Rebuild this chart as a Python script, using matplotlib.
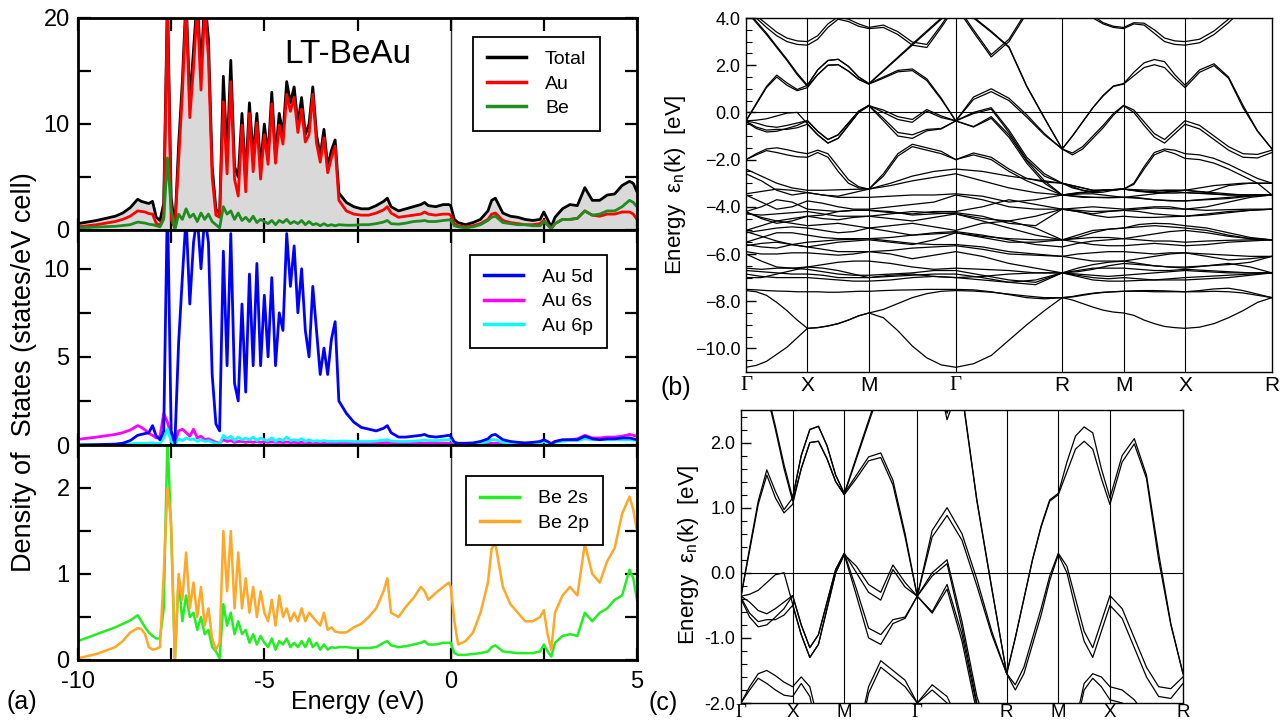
import numpy as np
import matplotlib
matplotlib.use("Agg")
import matplotlib.pyplot as plt
from matplotlib.lines import Line2D

plt.rcParams['font.family'] = ['Liberation Sans', 'DejaVu Sans']

# ---------------- DOS data (energy in eV, DOS in states/eV cell) ----------------
E_lo = [-10.0, -9.5, -9.0, -8.8, -8.6, -8.4, -8.3, -8.2, -8.1, -8.0, -7.9, -7.8, -7.7]
E_mid = [-7.6, -7.5, -7.4, -7.3, -7.2, -7.1, -7.0, -6.9, -6.8, -6.7, -6.6, -6.5, -6.4, -6.3,
         -6.2, -6.1, -6.0, -5.9, -5.8, -5.7, -5.6, -5.5, -5.4, -5.3, -5.2, -5.1, -5.0, -4.9,
         -4.8, -4.7, -4.6, -4.5, -4.4, -4.3, -4.2, -4.1, -4.0, -3.9, -3.8, -3.7, -3.6, -3.5,
         -3.4, -3.3, -3.2, -3.1, -3.0]
E_hi = [-2.8, -2.6, -2.4, -2.2, -2.0, -1.8, -1.7, -1.6, -1.4, -1.2, -1.0, -0.8, -0.7, -0.6,
        -0.4, -0.2, -0.05, 0.0, 0.1, 0.2, 0.4, 0.6, 0.8, 1.0, 1.1, 1.2, 1.4, 1.6, 1.8, 2.0,
        2.2, 2.4, 2.5, 2.6, 2.7, 2.8, 3.0, 3.2, 3.4, 3.6, 3.8, 4.0, 4.2, 4.4, 4.6, 4.8, 4.9, 5.0]

total_lo = [0.6, 0.9, 1.3, 1.6, 2.1, 2.9, 2.7, 2.6, 2.5, 2.7, 1.2, 0.9, 2.5]
total_mid = [22, 3, 0.3, 8, 14, 22, 12, 17, 22, 15, 22, 18, 6, 2, 1.5, 14.5, 7, 16, 6, 5, 11, 5,
             12, 7, 11, 6, 10, 7, 13, 7, 11, 9, 14, 12, 13.5, 10, 12.5, 9, 10, 13.5, 9, 7, 9.5,
             6, 7.5, 8.5, 3.5]
total_hi = [2.6, 2.2, 2.0, 2.0, 2.3, 2.7, 3.0, 2.2, 1.8, 2.0, 2.2, 2.4, 2.6, 2.3, 2.2, 2.4, 2.4,
            2.3, 1.0, 0.7, 0.5, 0.7, 1.0, 1.8, 2.8, 3.0, 1.6, 1.3, 1.2, 1.0, 0.9, 1.0, 1.7, 1.0,
            0.3, 1.2, 2.0, 2.4, 2.3, 4.0, 2.8, 2.8, 3.3, 3.4, 4.2, 4.6, 4.4, 3.6]

au_lo = [0.3, 0.5, 0.8, 1.0, 1.3, 1.8, 1.75, 1.7, 1.55, 1.5, 0.6, 0.45, 1.2]
au_mid = [21, 1.0, 0.2, 6.5, 12.8, 21, 10.6, 15.3, 21, 13.2, 21, 16.3, 5.0, 1.4, 1.2, 12.1, 5.3,
          14, 4.8, 3.2, 9.9, 3.6, 11, 5.5, 10.1, 4.8, 9.0, 6.2, 11.9, 6.3, 9.9, 8.1, 12.8, 11.2,
          12.5, 9.2, 11.4, 8.3, 9.0, 12.8, 8.2, 6.4, 8.7, 5.4, 6.8, 7.9, 2.8]
au_hi = [1.8, 1.5, 1.4, 1.4, 1.6, 1.9, 2.2, 1.6, 1.2, 1.3, 1.4, 1.5, 1.7, 1.5, 1.4, 1.5, 1.5, 1.4,
         0.6, 0.4, 0.3, 0.4, 0.6, 1.0, 1.5, 1.6, 0.9, 0.7, 0.6, 0.5, 0.5, 0.6, 0.9, 0.5, 0.2, 0.6,
         1.0, 1.0, 1.1, 1.8, 1.4, 1.3, 1.5, 1.5, 1.7, 1.7, 1.5, 1.0]

be_lo = [0.2, 0.28, 0.35, 0.42, 0.5, 0.75, 0.7, 0.65, 0.55, 0.5, 0.4, 0.3, 1.0]
be_mid = [6.8, 2.0, 0.0, 1.5, 1.0, 2.0, 1.2, 1.5, 0.8, 1.6, 1.0, 1.5, 0.8, 0.5, 0.2, 2.2, 1.5, 1.8,
          1.0, 1.6, 0.9, 1.2, 0.8, 1.3, 0.7, 1.0, 0.8, 0.6, 0.9, 0.5, 0.9, 0.7, 1.0, 0.6, 0.8, 0.6,
          0.9, 0.5, 0.8, 0.5, 0.6, 0.4, 0.6, 0.4, 0.5, 0.4, 0.5]
be_hi = [0.45, 0.45, 0.5, 0.5, 0.6, 0.75, 0.9, 0.6, 0.55, 0.65, 0.8, 0.85, 0.9, 0.8, 0.8, 0.9, 0.95,
         0.95, 0.4, 0.3, 0.2, 0.3, 0.5, 0.9, 1.2, 1.3, 0.7, 0.6, 0.5, 0.5, 0.4, 0.4, 0.8, 0.5, 0.1,
         0.6, 1.0, 1.0, 1.1, 1.8, 1.4, 1.5, 1.8, 1.8, 2.2, 2.8, 2.6, 2.2]

au5d_lo = [0.0, 0.02, 0.05, 0.1, 0.25, 0.55, 0.6, 0.65, 0.7, 1.1, 0.5, 0.3, 0.8]
au5d_mid = [14, 0.8, 0.1, 5.8, 9.5, 13, 8.0, 11.5, 13, 10, 13, 11.5, 4.0, 1.2, 0.8, 11, 4.5, 12,
            3.5, 2.5, 8, 3, 9.7, 4.5, 10.3, 4.5, 8.5, 5, 9.5, 4.5, 7.5, 6.5, 12, 9, 11.3, 7.5, 10,
            6.5, 5, 9, 6.5, 4, 5.5, 4, 6, 7, 2.5]
au5d_hi = [1.8, 1.3, 1.0, 0.9, 0.8, 0.95, 1.1, 0.7, 0.45, 0.45, 0.5, 0.55, 0.6, 0.5, 0.45, 0.5,
           0.55, 0.5, 0.15, 0.1, 0.1, 0.12, 0.2, 0.35, 0.55, 0.6, 0.3, 0.2, 0.15, 0.12, 0.15, 0.2,
           0.3, 0.2, 0.05, 0.2, 0.3, 0.3, 0.3, 0.5, 0.35, 0.3, 0.35, 0.35, 0.4, 0.4, 0.35, 0.3]

au6s_lo = [0.32, 0.45, 0.6, 0.7, 0.85, 1.1, 1.0, 0.85, 0.65, 0.55, 0.4, 0.5, 1.8]
au6s_mid = [1.3, 0.5, 0.1, 0.8, 0.9, 0.7, 0.5, 0.9, 0.4, 0.5, 0.3, 0.35, 0.25, 0.15, 0.1, 0.3,
            0.2, 0.25, 0.15, 0.2, 0.2, 0.15, 0.2, 0.15, 0.2, 0.15, 0.18, 0.15, 0.18, 0.15, 0.16,
            0.14, 0.17, 0.14, 0.15, 0.13, 0.15, 0.13, 0.14, 0.12, 0.13, 0.12, 0.12, 0.11, 0.12,
            0.11, 0.1]
au6s_hi = [0.1, 0.1, 0.1, 0.1, 0.1, 0.12, 0.13, 0.1, 0.1, 0.1, 0.1, 0.1, 0.1, 0.1, 0.1, 0.1, 0.1,
           0.1, 0.05, 0.05, 0.05, 0.05, 0.06, 0.08, 0.1, 0.1, 0.08, 0.07, 0.07, 0.08, 0.1, 0.12,
           0.2, 0.15, 0.1, 0.2, 0.25, 0.3, 0.35, 0.55, 0.4, 0.4, 0.45, 0.45, 0.5, 0.6, 0.55, 0.5]

au6p_lo = [0.01, 0.02, 0.03, 0.04, 0.06, 0.1, 0.1, 0.1, 0.1, 0.12, 0.08, 0.1, 0.4]
au6p_mid = [0.9, 0.2, 0.05, 0.35, 0.25, 0.4, 0.3, 0.35, 0.2, 0.3, 0.2, 0.25, 0.15, 0.1, 0.05,
            0.55, 0.35, 0.5, 0.25, 0.45, 0.3, 0.4, 0.3, 0.45, 0.25, 0.4, 0.3, 0.25, 0.4, 0.2,
            0.35, 0.25, 0.45, 0.25, 0.3, 0.25, 0.35, 0.2, 0.3, 0.2, 0.25, 0.2, 0.25, 0.2, 0.22,
            0.2, 0.22]
au6p_hi = [0.22, 0.2, 0.2, 0.2, 0.22, 0.28, 0.3, 0.22, 0.2, 0.2, 0.22, 0.25, 0.28, 0.25, 0.25,
           0.28, 0.3, 0.3, 0.12, 0.08, 0.06, 0.07, 0.1, 0.2, 0.3, 0.3, 0.15, 0.12, 0.1, 0.1, 0.1,
           0.12, 0.2, 0.12, 0.05, 0.15, 0.22, 0.25, 0.25, 0.35, 0.3, 0.3, 0.3, 0.3, 0.3, 0.3,
           0.28, 0.25]

be2s_lo = [0.22, 0.3, 0.38, 0.42, 0.46, 0.52, 0.45, 0.38, 0.32, 0.28, 0.25, 0.25, 0.6]
be2s_mid = [2.6, 1.5, 0.0, 0.95, 0.45, 0.75, 0.5, 0.55, 0.35, 0.5, 0.3, 0.35, 0.15, 0.1, 0.02,
            0.65, 0.4, 0.55, 0.3, 0.45, 0.3, 0.35, 0.2, 0.3, 0.18, 0.28, 0.2, 0.15, 0.25, 0.12,
            0.22, 0.18, 0.25, 0.15, 0.2, 0.15, 0.22, 0.15, 0.25, 0.15, 0.2, 0.12, 0.18, 0.12,
            0.15, 0.14, 0.15]
be2s_hi = [0.15, 0.14, 0.14, 0.14, 0.15, 0.2, 0.22, 0.17, 0.15, 0.16, 0.18, 0.2, 0.22, 0.18,
           0.18, 0.2, 0.2, 0.2, 0.08, 0.06, 0.06, 0.07, 0.08, 0.1, 0.15, 0.17, 0.1, 0.09, 0.08,
           0.08, 0.08, 0.1, 0.18, 0.1, 0.04, 0.2, 0.28, 0.3, 0.28, 0.55, 0.45, 0.55, 0.6, 0.7,
           0.75, 1.05, 0.95, 0.7]

be2p_lo = [0.02, 0.07, 0.15, 0.22, 0.32, 0.37, 0.36, 0.3, 0.15, 0.12, 0.13, 0.15, 1.0]
be2p_mid = [2.0, 1.6, 0.0, 1.0, 0.7, 1.25, 0.6, 0.9, 0.5, 0.85, 0.4, 0.6, 0.25, 0.12, 0.2, 1.5,
            0.8, 1.5, 0.6, 1.25, 0.6, 0.95, 0.55, 0.85, 0.5, 0.8, 0.55, 0.45, 0.7, 0.4, 0.75,
            0.5, 0.6, 0.45, 0.55, 0.45, 0.6, 0.45, 0.55, 0.5, 0.45, 0.4, 0.55, 0.35, 0.38, 0.33,
            0.32]
be2p_hi = [0.32, 0.38, 0.42, 0.5, 0.6, 0.8, 0.95, 0.55, 0.5, 0.62, 0.72, 0.85, 0.8, 0.7, 0.78,
           0.85, 0.9, 0.85, 0.45, 0.18, 0.22, 0.32, 0.55, 0.9, 1.3, 1.35, 0.85, 0.65, 0.55, 0.45,
           0.45, 0.5, 0.58, 0.3, 0.12, 0.55, 0.75, 0.85, 0.75, 1.35, 1.0, 0.9, 1.15, 1.3, 1.7,
           1.9, 1.75, 1.5]

energy = E_lo + E_mid + E_hi
dos_total = total_lo + total_mid + total_hi
dos_au = au_lo + au_mid + au_hi
dos_be = be_lo + be_mid + be_hi
dos_au5d = au5d_lo + au5d_mid + au5d_hi
dos_au6s = au6s_lo + au6s_mid + au6s_hi
dos_au6p = au6p_lo + au6p_mid + au6p_hi
dos_be2s = be2s_lo + be2s_mid + be2s_hi
dos_be2p = be2p_lo + be2p_mid + be2p_hi

# ---------------- band structure data ----------------
k_labels = ['Γ', 'X', 'M', 'Γ', 'R', 'M', 'X', 'R']
k_nodes = [0.0, 1.0, 2.0, 3.414, 5.146, 6.146, 7.146, 8.561]

# bands sampled at 6 steps per path segment (43 values)
band_L1 = [-0.36, 0.34, 1.05, 1.5, 1.15, 0.92,  1.05, 1.6, 2.0, 2.02, 1.75, 1.4,
           1.2, 1.45, 1.72, 1.77, 1.35, 0.55,  -0.36, 0.55, 0.88, 0.5, -0.2, -0.95,
           -1.55, -1.0, -0.4, 0.2, 0.7, 1.1,  1.2, 1.55, 1.9, 2.02, 1.9, 1.45,
           1.05, 1.7, 1.98, 1.45, 0.2, -0.8,  -1.55]
band_L2 = [-0.36, 0.38, 1.1, 1.58, 1.25, 0.97,  1.15, 1.8, 2.2, 2.25, 1.95, 1.5,
           1.22, 1.5, 1.78, 1.84, 1.42, 0.6,  -0.36, 0.65, 1.0, 0.6, -0.1, -0.9,
           -1.55, -1.0, -0.4, 0.2, 0.72, 1.12,  1.22, 1.7, 2.1, 2.24, 2.15, 1.6,
           1.15, 1.8, 2.06, 1.5, 0.3, -0.78,  -1.55]
band_V1 = [4.3, 3.8, 3.3, 2.75, 2.2, 1.6,  1.1, 1.6, 2.0, 2.02, 1.75, 1.4,
           1.2, 1.75, 2.3, 2.85, 3.4, 3.95,  4.5, 4.0, 3.4, 2.75, 1.1, -0.25,
           -1.55, -1.72, -1.45, -1.0, -0.55, -0.05,  0.3, 0.1, -0.4, -0.9, -1.15, -0.75,
           -0.35, -0.55, -1.0, -1.45, -1.75, -1.78,  -1.6]
band_V2 = [4.36, 3.86, 3.36, 2.8, 2.25, 1.66,  1.15, 1.8, 2.2, 2.25, 1.95, 1.5,
           1.22, 1.78, 2.34, 2.9, 3.45, 4.0,  4.55, 4.04, 3.44, 2.78, 1.12, -0.23,
           -1.55, -1.8, -1.55, -1.1, -0.65, -0.12,  0.28, 0.0, -0.55, -1.05, -1.3, -0.9,
           -0.5, -0.7, -1.15, -1.6, -1.9, -1.93,  -1.7]
band_B1 = [-0.36, -0.45, -0.58, -0.63, -0.55, -0.45,  -0.35, -0.8, -1.15, -0.95, -0.45, 0.05,
           0.3, -0.25, -0.85, -0.95, -0.72, -0.68,  -0.36, 0.0, 0.2, -0.75, -1.9, -2.6,
           -3.0, -3.1, -3.2, -3.3, -3.3, -3.28,  -3.25, -3.0, -2.3, -1.7, -1.55, -1.6,
           -1.75, -1.8, -1.95, -2.2, -2.5, -2.8,  -3.0]
band_B2 = [-0.36, -0.33, -0.27, -0.15, -0.03, 0.0,  -0.48, -0.95, -1.3, -1.1, -0.55, 0.0,
           0.28, -0.35, -1.0, -1.1, -0.78, -0.7,  -0.36, -0.05, 0.14, -0.85, -2.0, -2.7,
           -3.0, -3.2, -3.3, -3.4, -3.38, -3.3,  -3.25, -3.05, -2.4, -1.8, -1.62, -1.75,
           -1.95, -2.0, -2.15, -2.4, -2.7, -3.0,  -3.5]
band_P3 = [-0.38, -0.62, -0.75, -0.72, -0.72, -0.65,  -0.5, -0.95, -1.3, -1.1, -0.55, 0.0,
           0.28, 0.1, -0.18, -0.3, 0.12, -0.15,  -0.36, -0.6, -0.18, -0.95, -2.05, -2.9,
           -3.5, -3.55, -3.6, -3.6, -3.6, -3.6,  -3.6, -3.62, -3.66, -3.7, -3.72, -3.74,
           -3.75, -3.7, -3.65, -3.6, -3.55, -3.5,  -3.5]
band_P4 = [-0.4, -0.68, -0.83, -0.8, -0.68, -0.55,  -0.35, -0.8, -1.15, -0.95, -0.45, 0.05,
           0.3, 0.0, -0.3, -0.42, 0.05, -0.22,  -0.36, -0.62, -0.25, -1.05, -2.15, -3.0,
           -3.5, -3.48, -3.45, -3.45, -3.5, -3.55,  -3.6, -3.55, -3.5, -3.45, -3.4, -3.35,
           -3.3, -3.35, -3.4, -3.45, -3.5, -3.5,  -3.5]
band_G1 = [-2.0, -1.75, -1.55, -1.5, -1.58, -1.68,  -1.75, -1.6, -1.75, -2.3, -2.85, -3.15,
           -3.25, -2.6, -1.75, -1.35, -1.5, -1.65,  -2.0, -1.72, -1.9, -2.4, -2.8, -2.95,
           -3.0, -3.15, -3.3, -3.35, -3.3, -3.27,  -3.25, -3.3, -3.35, -3.35, -3.3, -3.3,
           -3.3, -3.2, -3.1, -3.05, -3.0, -3.0,  -3.0]
band_G2 = [-2.0, -1.8, -1.62, -1.7, -1.8, -1.88,  -1.9, -1.7, -1.9, -2.5, -3.0, -3.2,
           -3.25, -2.7, -1.85, -1.45, -1.6, -1.75,  -2.0, -1.8, -2.0, -2.5, -2.9, -3.2,
           -3.5, -3.45, -3.4, -3.35, -3.3, -3.27,  -3.25, -3.3, -3.35, -3.4, -3.42, -3.42,
           -3.4, -3.42, -3.45, -3.5, -3.5, -3.5,  -3.5]
band_W1 = [4.3, 4.0, 3.6, 3.25, 3.0, 2.88,  2.85, 3.1, 3.6, 3.95, 3.85, 3.65,
           3.55, 3.6, 3.3, 2.85, 2.75, 3.6,  4.5, 3.4, 2.35, 3.0, 4.2, 5.0,
           5.5, 4.8, 4.4, 4.0, 3.75, 3.6,  3.55, 3.75, 3.7, 3.35, 3.0, 2.88,
           2.85, 2.95, 3.3, 3.8, 4.4, 5.0,  5.5]
band_W2 = [4.4, 4.1, 3.75, 3.4, 3.15, 3.03,  3.0, 3.25, 3.75, 4.05, 3.95, 3.75,
           3.6, 3.7, 3.42, 2.98, 2.88, 3.7,  4.6, 3.5, 2.45, 3.1, 4.3, 5.1,
           5.6, 4.9, 4.5, 4.1, 3.8, 3.65,  3.6, 3.8, 3.78, 3.5, 3.15, 3.03,
           3.0, 3.1, 3.45, 3.95, 4.5, 5.1,  5.6]
band_D1 = [-10.8, -10.72, -10.55, -10.25, -9.95, -9.55,  -9.15, -9.12, -9.05, -8.95, -8.8, -8.62,
           -8.5, -8.7, -9.25, -9.9, -10.4, -10.7,  -10.8, -10.65, -10.3, -9.65, -9.0, -8.4,
           -7.85, -7.95, -8.1, -8.25, -8.38, -8.46,  -8.5, -8.6, -8.8, -8.95, -9.07, -9.12,
           -9.15, -9.1, -8.95, -8.7, -8.4, -8.05,  -7.85]
band_D2 = [-7.55, -7.6, -7.75, -8.05, -8.4, -8.8,  -9.15, -9.12, -9.05, -8.95, -8.8, -8.62,
           -8.5, -8.35, -8.1, -7.85, -7.68, -7.58,  -7.55, -7.57, -7.62, -7.7, -7.78, -7.85,
           -7.85, -7.8, -7.72, -7.66, -7.62, -7.6,  -7.58, -7.58, -7.58, -7.6, -7.6, -7.6,
           -7.6, -7.55, -7.48, -7.45, -7.55, -7.7,  -7.85]
band_D3 = [-7.5, -7.52, -7.55, -7.57, -7.58, -7.6,  -7.6, -7.6, -7.62, -7.62, -7.6, -7.58,
           -7.58, -7.55, -7.53, -7.52, -7.5, -7.5,  -7.5, -7.52, -7.6, -7.72, -7.85, -7.9,
           -7.85, -7.82, -7.75, -7.68, -7.63, -7.6,  -7.58, -7.56, -7.55, -7.55, -7.56, -7.58,
           -7.6, -7.6, -7.58, -7.6, -7.65, -7.75,  -7.85]

# d-band manifold sampled at 4 steps per path segment (29 values)
band_c1 = [-2.4, -2.7, -3.0, -3.2, -3.3, -3.3, -3.28, -3.26, -3.25, -3.0, -2.7, -2.5, -2.4, -2.5, -2.7,
           -2.85, -3.0, -3.15, -3.3, -3.28, -3.25, -3.28, -3.3, -3.3, -3.3, -3.4, -3.1, -3.0, -3.0]
band_c2 = [-2.6, -2.9, -3.3, -3.5, -3.4, -3.5, -3.55, -3.4, -3.25, -3.1, -2.9, -2.75, -2.6, -2.9, -3.2,
           -3.4, -3.5, -3.4, -3.35, -3.3, -3.25, -3.35, -3.4, -3.35, -3.4, -3.45, -3.5, -3.5, -3.5]
band_c3 = [-3.45, -3.35, -3.25, -3.3, -3.4, -3.5, -3.6, -3.6, -3.6, -3.55, -3.5, -3.5, -3.45, -3.55, -3.8,
           -3.7, -3.5, -3.55, -3.6, -3.62, -3.6, -3.62, -3.7, -3.75, -3.75, -3.7, -3.65, -3.55, -3.5]
band_c4 = [-3.5, -3.8, -4.1, -4.0, -3.75, -3.85, -4.0, -4.1, -4.1, -4.0, -3.9, -3.8, -3.5, -3.7, -4.0,
           -4.1, -4.1, -4.05, -4.0, -4.05, -4.1, -4.05, -4.0, -4.0, -4.1, -4.0, -3.8, -3.6, -3.5]
band_c5 = [-4.2, -4.0, -3.7, -3.8, -4.1, -4.15, -4.2, -4.15, -4.15, -4.25, -4.3, -4.2, -4.2, -4.0, -3.7,
           -3.9, -4.1, -4.2, -4.3, -4.2, -4.15, -4.2, -4.3, -4.35, -4.4, -4.3, -4.2, -4.15, -4.1]
band_c6 = [-4.3, -4.35, -4.3, -4.25, -4.2, -4.3, -4.4, -4.4, -4.4, -4.5, -4.6, -4.45, -4.3, -4.5, -4.6,
           -4.4, -4.1, -4.2, -4.35, -4.45, -4.4, -4.45, -4.45, -4.42, -4.4, -4.35, -4.25, -4.15, -4.1]
band_c7 = [-4.2, -4.5, -4.7, -4.6, -4.4, -4.5, -4.55, -4.45, -4.4, -4.3, -4.2, -4.25, -4.3, -4.6, -4.9,
           -5.2, -5.4, -5.3, -5.1, -4.95, -4.9, -4.85, -4.8, -4.85, -4.9, -5.0, -5.2, -5.35, -5.4]
band_c8 = [-5.0, -4.8, -4.6, -4.7, -4.8, -4.75, -4.7, -4.8, -4.9, -4.8, -4.7, -4.85, -5.0, -4.7, -4.6,
           -4.9, -5.4, -5.2, -5.0, -4.95, -4.9, -4.75, -4.7, -4.72, -4.8, -4.9, -5.1, -5.3, -5.4]
band_c9 = [-5.1, -5.0, -4.9, -4.85, -4.9, -5.0, -5.1, -5.05, -4.9, -5.05, -5.2, -5.15, -5.1, -5.3, -5.5,
           -5.5, -5.4, -5.35, -5.3, -5.3, -5.35, -5.25, -5.15, -5.05, -5.0, -5.1, -5.25, -5.35, -5.4]
band_c10 = [-5.5, -5.3, -5.1, -5.1, -5.2, -5.3, -5.35, -5.35, -5.35, -5.3, -5.2, -5.1, -5.05, -5.2, -5.4,
            -5.6, -5.7, -5.55, -5.45, -5.4, -5.35, -5.4, -5.45, -5.45, -5.5, -5.45, -5.42, -5.4, -5.4]
band_c11 = [-5.6, -5.7, -5.75, -5.6, -5.5, -5.45, -5.4, -5.38, -5.35, -5.45, -5.55, -5.6, -5.6, -5.7, -5.9,
            -6.0, -6.1, -6.0, -5.95, -5.9, -5.9, -5.95, -6.0, -5.95, -5.95, -6.0, -6.05, -6.1, -6.1]
band_c12 = [-5.65, -5.55, -5.5, -5.6, -5.7, -5.8, -5.9, -5.9, -5.9, -5.85, -5.75, -5.7, -5.65, -5.8, -6.0,
            -6.05, -6.1, -6.2, -6.3, -6.3, -6.3, -6.2, -6.1, -6.0, -5.95, -6.1, -6.25, -6.2, -6.1]
band_c13 = [-5.9, -6.0, -6.0, -5.95, -5.95, -6.0, -6.05, -6.0, -5.9, -6.0, -6.2, -6.05, -5.9, -6.1, -6.4,
            -6.6, -6.8, -6.6, -6.45, -6.35, -6.3, -6.4, -6.5, -6.55, -6.55, -6.5, -6.45, -6.35, -6.1]
band_c14 = [-6.0, -6.3, -6.55, -6.6, -6.55, -6.45, -6.35, -6.3, -6.3, -6.4, -6.55, -6.65, -6.6, -6.65, -6.7,
            -6.8, -6.8, -6.7, -6.6, -6.6, -6.6, -6.65, -6.7, -6.7, -6.65, -6.7, -6.75, -6.8, -6.8]
band_c15 = [-6.6, -6.65, -6.6, -6.6, -6.65, -6.75, -6.85, -6.9, -6.9, -6.85, -6.8, -6.7, -6.7, -6.9, -7.1,
            -7.2, -6.8, -6.85, -6.9, -6.95, -6.9, -6.85, -6.8, -6.75, -6.7, -6.75, -6.8, -6.8, -6.8]
band_c16 = [-6.7, -6.75, -6.8, -6.85, -6.85, -6.9, -7.0, -7.0, -7.0, -6.95, -6.9, -6.85, -6.85, -7.0, -7.2,
            -7.3, -6.8, -6.9, -7.0, -7.05, -7.0, -7.05, -7.1, -7.05, -7.0, -6.95, -6.9, -6.85, -6.8]
band_c17 = [-6.85, -6.95, -7.0, -7.0, -7.0, -7.05, -7.1, -7.15, -7.15, -7.1, -7.0, -6.95, -7.0, -7.1, -7.2,
            -7.1, -6.8, -6.95, -7.1, -7.15, -7.15, -7.12, -7.1, -7.1, -7.1, -7.05, -7.0, -6.9, -6.8]
band_c18 = [-7.0, -7.0, -6.85, -6.7, -6.55, -6.6, -6.7, -6.85, -7.0, -6.9, -6.85, -6.95, -7.0, -6.95, -6.85,
            -6.8, -6.8, -6.75, -6.65, -6.5, -6.4, -6.45, -6.5, -6.55, -6.6, -6.5, -6.4, -6.55, -6.8]
band_c19 = [-4.25, -4.45, -4.6, -4.5, -4.4, -4.35, -4.2, -4.15, -4.15, -4.2, -4.35, -4.3, -4.25, -4.4, -4.7,
            -4.8, -4.1, -4.15, -4.2, -4.18, -4.15, -4.1, -4.05, -4.08, -4.1, -4.15, -4.12, -4.1, -4.1]
band_c20 = [-5.05, -5.25, -5.45, -5.6, -5.7, -5.6, -5.5, -5.45, -5.4, -5.5, -5.6, -5.4, -5.1, -5.25, -5.35,
            -5.4, -5.4, -5.5, -5.6, -5.65, -5.65, -5.6, -5.55, -5.6, -5.65, -5.6, -5.5, -5.45, -5.4]

bands_fine = [band_L1, band_L2, band_V1, band_V2, band_B1, band_B2, band_P3, band_P4,
              band_G1, band_G2, band_W1, band_W2, band_D1, band_D2, band_D3]
bands_coarse = [band_c1, band_c2, band_c3, band_c4, band_c5, band_c6, band_c7, band_c8, band_c9,
                band_c10, band_c11, band_c12, band_c13, band_c14, band_c15, band_c16, band_c17,
                band_c18, band_c19, band_c20]


def path_grid(nodes, steps):
    pts = []
    for a, b in zip(nodes[:-1], nodes[1:]):
        pts.extend(np.linspace(a, b, steps + 1)[:-1])
    pts.append(nodes[-1])
    return np.array(pts)


k_fine = path_grid(k_nodes, 6)
k_coarse = path_grid(k_nodes, 4)

# ---------------- figure ----------------
W, H = 1282, 720
fig = plt.figure(figsize=(W / 100, H / 100), dpi=100)


def box(l, t, r, b):
    return [l / W, 1 - b / H, (r - l) / W, (b - t) / H]


ax1 = fig.add_axes(box(78, 18, 637, 230))
ax2 = fig.add_axes(box(78, 230, 637, 445))
ax3 = fig.add_axes(box(78, 445, 637, 660))

ax1.fill_between(energy, dos_total, 0, color='#d9d9d9', lw=0)
ax1.plot(energy, dos_total, color='black', lw=2.0)
ax1.plot(energy, dos_au, color='#ff0000', lw=2.0)
ax1.plot(energy, dos_be, color='#1e8c1e', lw=2.0)

ax2.plot(energy, dos_au6s, color='#ff00ff', lw=2.0)
ax2.plot(energy, dos_au6p, color='#00ffff', lw=2.0)
ax2.plot(energy, dos_au5d, color='#0000ff', lw=2.0)

ax3.plot(energy, dos_be2s, color='#22ee22', lw=1.8)
ax3.plot(energy, dos_be2p, color='#ffa726', lw=1.8)

ylims = [(0, 20), (0, 12.2), (0, 2.5)]
ymaj = [[0, 10, 20], [0, 5, 10], [0, 1, 2]]
ymin = [[5, 15], [2.5, 7.5], [0.5, 1.5]]
for ax, yl, ma, mi in zip([ax1, ax2, ax3], ylims, ymaj, ymin):
    ax.axvline(0, color='#333333', lw=1.0, zorder=0.5)
    ax.set_xlim(-10, 5)
    ax.set_ylim(*yl)
    ax.set_xticks([-10, -5, 0, 5])
    ax.set_xticks([-7.5, -2.5, 2.5], minor=True)
    ax.set_yticks(ma)
    ax.set_yticks(mi, minor=True)
    ax.set_yticklabels([str(v) for v in ma])
    ax.tick_params(which='both', direction='in', top=True, right=True, length=9, width=1.6,
                   labelsize=17, pad=6)
    for s in ax.spines.values():
        s.set_linewidth(2.0)
    if ax is not ax3:
        ax.tick_params(labelbottom=False)
ax3.set_xticklabels(['-10', '-5', '0', '5'])
ax3.tick_params(axis='x', pad=8)

leg_kw = dict(frameon=True, fancybox=False, edgecolor='black', framealpha=1, fontsize=14,
              handlelength=2.0, handletextpad=1.0, borderpad=0.7, labelspacing=0.35,
              borderaxespad=0)
h1 = [Line2D([], [], color=c, lw=2.5) for c in ['black', '#ff0000', '#1e8c1e']]
lg = ax1.legend(h1, ['Total', 'Au', 'Be'], loc='upper right', bbox_to_anchor=(0.934, 0.91), **leg_kw)
lg.get_frame().set_linewidth(1.3)
h2 = [Line2D([], [], color=c, lw=2.5) for c in ['#0000ff', '#ff00ff', '#00ffff']]
lg = ax2.legend(h2, ['Au 5d', 'Au 6s', 'Au 6p'], loc='upper right', bbox_to_anchor=(0.946, 0.885), **leg_kw)
lg.get_frame().set_linewidth(1.3)
h3 = [Line2D([], [], color=c, lw=2.5) for c in ['#22ee22', '#ffa726']]
lg = ax3.legend(h3, ['Be 2s', 'Be 2p'], loc='upper right', bbox_to_anchor=(0.939, 0.855), **leg_kw)
lg.get_frame().set_linewidth(1.3)

ax1.text(-2.75, 16.6, 'LT-BeAu', fontsize=24, ha='center', va='center')

fig.text(24 / W, 1 - 372 / H, 'Density of  States (states/eV cell)', rotation=90, fontsize=19.5,
         ha='center', va='center')
fig.text(358 / W, 1 - 702 / H, 'Energy (eV)', fontsize=18, ha='center', va='center')
fig.text(22 / W, 1 - 702 / H, '(a)', fontsize=18, ha='center', va='center')

# band structure panels
axb = fig.add_axes(box(746, 18, 1272, 372))
axc = fig.add_axes(box(741, 410, 1183, 703))

for ax, ylim in [(axb, (-11.0, 4.0)), (axc, (-2.0, 2.5))]:
    for bnd in bands_fine:
        ax.plot(k_fine, bnd, color='black', lw=0.9)
    for bnd in bands_coarse:
        ax.plot(k_coarse, bnd, color='black', lw=0.9)
    for kn in k_nodes[1:-1]:
        ax.axvline(kn, color='black', lw=0.8)
    ax.axhline(0, color='black', lw=0.8)
    ax.set_xlim(k_nodes[0], k_nodes[-1])
    ax.set_ylim(*ylim)
    ax.set_xticks(k_nodes)
    ax.set_xticklabels([])
    ax.tick_params(axis='x', length=0)
    for s in ax.spines.values():
        s.set_linewidth(1.0)

# k-point labels
for ax, dy, fs in [(axb, -0.012, 15), (axc, -0.004, 13.5)]:
    for kn, lab in zip(k_nodes, k_labels):
        fam = ['Liberation Serif', 'DejaVu Serif'] if lab == 'Γ' else ['Liberation Sans', 'DejaVu Sans']
        ax.text(kn, dy, lab, transform=ax.get_xaxis_transform(), ha='center', va='top',
                fontsize=fs, family=fam)

axb.set_yticks(np.arange(-10, 4.01, 2))
axb.set_yticklabels(['\u221210.0', '\u22128.0', '\u22126.0', '\u22124.0', '\u22122.0', '0.0', '2.0', '4.0'])
axb.set_yticks(np.arange(-11, 4.01, 0.5), minor=True)
axc.set_yticks([-2, -1, 0, 1, 2])
axc.set_yticklabels(['-2.0', '-1.0', '0.0', '1.0', '2.0'])
axc.set_yticks(np.arange(-2.0, 2.51, 0.2), minor=True)
for ax in (axb, axc):
    ax.tick_params(axis='y', which='major', direction='in', length=7, width=1.0, labelsize=13, pad=4)
    ax.tick_params(axis='y', which='minor', direction='in', length=4, width=0.8)

ylab = 'Energy  ε$_{\\mathregular{n}}$(k)  [eV]'
fig.text(676 / W, 1 - 185 / H, ylab, rotation=90, fontsize=16, ha='center', va='center')
fig.text(689 / W, 1 - 555 / H, ylab, rotation=90, fontsize=16, ha='center', va='center')
fig.text(676 / W, 1 - 388 / H, '(b)', fontsize=18, ha='center', va='center')
fig.text(663 / W, 1 - 703 / H, '(c)', fontsize=18, ha='center', va='center')

fig.savefig('out.png', dpi=100)
